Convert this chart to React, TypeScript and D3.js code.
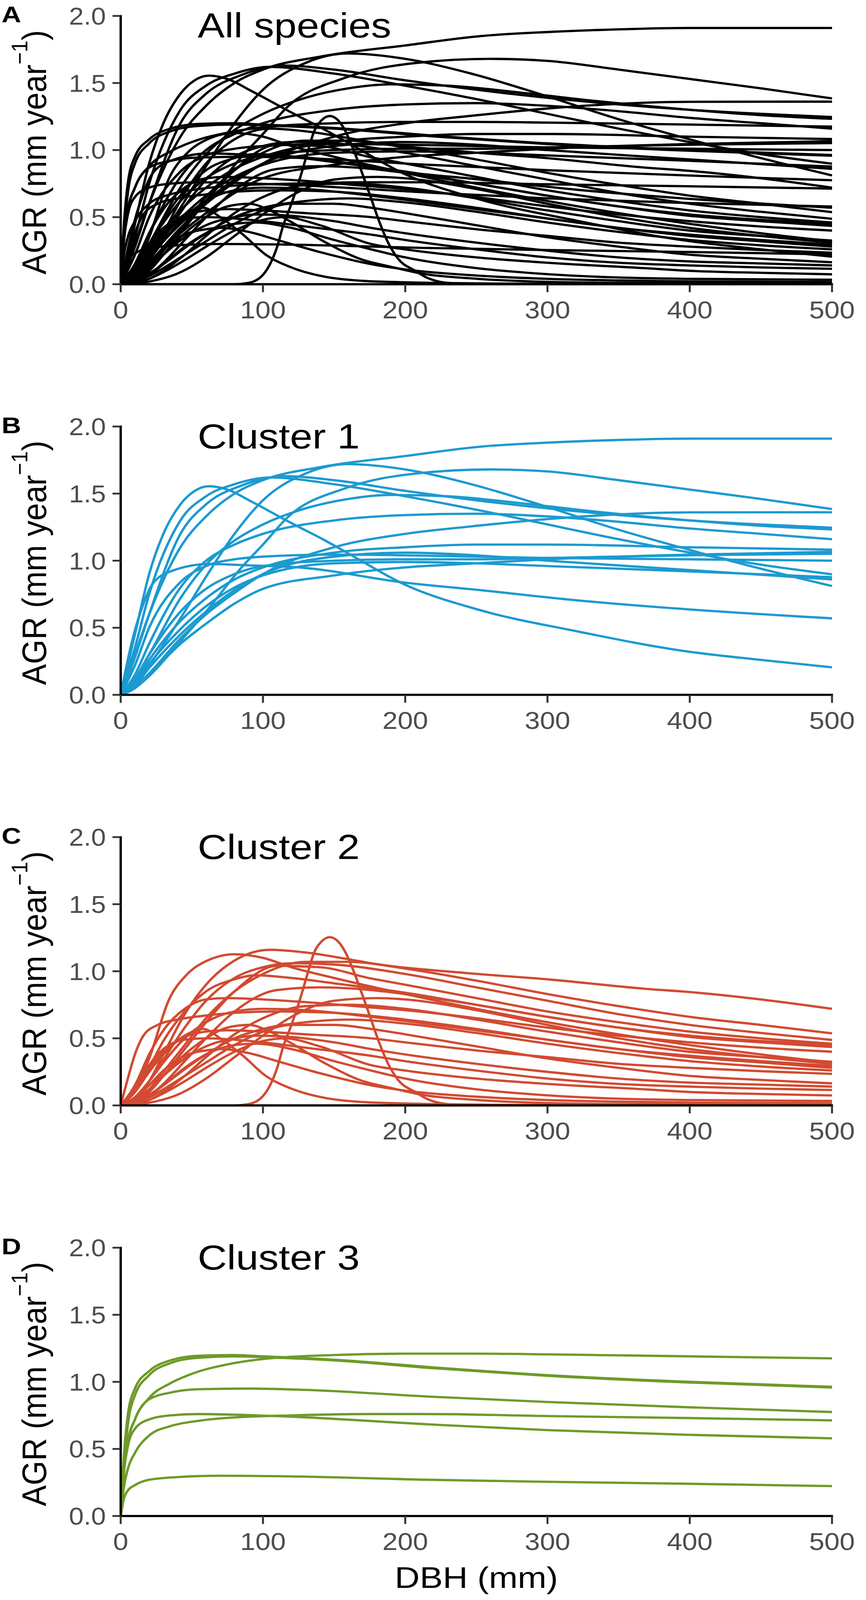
import React from 'react';
import * as d3 from 'd3';

type Pt = [number, number];

// ---------- data ----------
const xTicks = [0, 100, 200, 300, 400, 500];
const xTickLabels = ['0', '100', '200', '300', '400', '500'];
const yTicks = [0, 0.5, 1, 1.5, 2];
const yTickLabels = ['0.0', '0.5', '1.0', '1.5', '2.0'];
const panelLetters = ['A', 'B', 'C', 'D'];
const panelTitles = ['All species', 'Cluster 1', 'Cluster 2', 'Cluster 3'];
const clusterColors = ['#1C9AD0', '#D24A31', '#6E9A29'];

const cluster1: Pt[][] = [
  [[0,0],[10,0.3],[20,0.6],[42,1.1],[60,1.33],[80,1.5],[100,1.6],[142,1.7],[200,1.78],[253,1.85],[300,1.88],[350,1.9],[400,1.91],[500,1.91]],
  [[0,0],[10,0.08],[20,0.22],[42,0.57],[60,0.88],[80,1.2],[100,1.45],[130,1.65],[160,1.72],[200,1.68],[245,1.574],[300,1.4],[350,1.23],[400,1.08],[450,0.94],[500,0.811]],
  [[0,0],[10,0.05],[20,0.14],[42,0.4],[60,0.62],[85,0.95],[100,1.12],[118,1.33],[158,1.54],[208,1.65],[260,1.68],[300,1.665],[350,1.6],[400,1.53],[450,1.46],[500,1.385]],
  [[0,0],[10,0.45],[20,0.9],[30,1.2],[42,1.42],[52,1.52],[62,1.555],[75,1.53],[92,1.44],[120,1.28],[142,1.16],[158,1.066],[200,0.82],[253,0.63],[320,0.475],[395,0.328],[450,0.26],[500,0.205]],
  [[0,0],[8,0.4],[15,0.65],[22,0.82],[35,0.92],[62,0.975],[90,0.965],[125,0.95],[200,0.836],[253,0.78],[320,0.705],[395,0.64],[500,0.57]],
  [[0,0],[10,0.35],[20,0.75],[42,1.3],[60,1.48],[80,1.57],[105,1.62],[150,1.57],[200,1.48],[250,1.38],[300,1.27],[350,1.16],[400,1.06],[450,0.97],[500,0.898]],
  [[0,0],[10,0.28],[20,0.6],[42,1.2],[60,1.42],[85,1.56],[115,1.63],[150,1.6],[200,1.52],[250,1.45],[300,1.39],[350,1.34],[400,1.3],[450,1.27],[500,1.246]],
  [[0,0],[10,0.12],[20,0.3],[42,0.72],[60,0.97],[80,1.15],[100,1.27],[130,1.39],[160,1.46],[190,1.49],[230,1.48],[280,1.43],[330,1.37],[400,1.3],[450,1.26],[500,1.233]],
  [[0,0],[10,0.06],[20,0.16],[42,0.42],[60,0.6],[80,0.76],[100,0.9],[150,1.1],[200,1.2],[245,1.254],[300,1.31],[350,1.345],[400,1.36],[500,1.361]],
  [[0,0],[10,0.15],[20,0.38],[42,0.8],[60,1.0],[80,1.12],[100,1.2],[150,1.3],[200,1.34],[250,1.35],[300,1.33],[350,1.29],[400,1.24],[450,1.2],[500,1.16]],
  [[0,0],[10,0.1],[20,0.26],[42,0.55],[60,0.72],[80,0.86],[100,0.95],[150,1.06],[200,1.1],[250,1.12],[300,1.12],[400,1.1],[500,1.082]],
  [[0,0],[10,0.05],[20,0.15],[42,0.38],[60,0.53],[80,0.68],[100,0.79],[150,0.89],[200,0.95],[250,0.98],[300,1.01],[400,1.045],[500,1.066]],
  [[0,0],[10,0.12],[20,0.3],[42,0.62],[60,0.79],[80,0.9],[100,0.96],[150,1.0],[200,1.01],[250,1.01],[300,1.02],[400,1.04],[500,1.052]],
  [[0,0],[10,0.22],[20,0.5],[42,0.84],[60,0.96],[80,1.01],[100,1.03],[150,1.045],[200,1.04],[250,1.03],[300,1.02],[400,1.01],[500,1.0]],
  [[0,0],[10,0.09],[20,0.23],[42,0.49],[60,0.66],[80,0.8],[100,0.89],[150,0.98],[200,0.99],[250,0.98],[300,0.96],[400,0.92],[500,0.877]],
  [[0,0],[10,0.07],[20,0.2],[42,0.45],[60,0.62],[80,0.78],[100,0.9],[150,1.03],[200,1.06],[250,1.04],[300,1.0],[400,0.93],[500,0.86]],
];

const cluster2: Pt[][] = [
  [[0,0],[10,0.05],[20,0.18],[30,0.38],[45,0.68],[60,0.9],[80,1.08],[105,1.16],[130,1.14],[160,1.09],[176,1.06],[245,0.985],[300,0.94],[368,0.87],[400,0.845],[450,0.79],[500,0.72]],
  [[0,0],[10,0.12],[20,0.35],[34,0.79],[46,0.97],[61,1.08],[80,1.127],[100,1.1],[120,1.03],[150,0.95],[200,0.83],[250,0.72],[300,0.62],[350,0.53],[400,0.45],[450,0.38],[500,0.32]],
  [[0,0],[10,0.04],[20,0.12],[30,0.25],[45,0.45],[60,0.65],[80,0.85],[100,0.98],[130,1.07],[160,1.07],[200,1.02],[250,0.93],[300,0.83],[350,0.74],[400,0.66],[450,0.6],[500,0.537]],
  [[0,0],[10,0.06],[20,0.18],[30,0.34],[45,0.58],[60,0.78],[80,0.95],[100,1.03],[120,1.06],[150,1.05],[200,0.98],[250,0.88],[300,0.78],[350,0.68],[400,0.6],[450,0.54],[500,0.488]],
  [[0,0],[10,0.03],[20,0.1],[30,0.22],[45,0.42],[60,0.62],[80,0.85],[110,1.04],[140,1.03],[176,0.946],[200,0.9],[250,0.8],[300,0.7],[350,0.62],[400,0.55],[450,0.5],[500,0.46]],
  [[0,0],[10,0.1],[20,0.28],[30,0.48],[45,0.7],[60,0.85],[80,0.94],[95,0.97],[120,0.95],[150,0.91],[200,0.84],[250,0.75],[300,0.66],[350,0.58],[400,0.52],[450,0.48],[500,0.45]],
  [[0,0],[10,0.02],[20,0.07],[30,0.16],[45,0.33],[60,0.5],[80,0.7],[110,0.86],[140,0.88],[176,0.86],[200,0.83],[250,0.75],[300,0.66],[350,0.58],[400,0.51],[450,0.47],[500,0.435]],
  [[0,0],[10,0.15],[20,0.38],[30,0.56],[45,0.72],[60,0.79],[75,0.8],[100,0.79],[130,0.77],[176,0.73],[200,0.71],[250,0.65],[300,0.58],[350,0.52],[400,0.47],[450,0.43],[500,0.4]],
  [[0,0],[10,0.01],[20,0.04],[30,0.1],[45,0.22],[60,0.36],[80,0.53],[100,0.65],[130,0.74],[160,0.75],[200,0.72],[250,0.64],[300,0.55],[350,0.47],[400,0.4],[450,0.36],[500,0.325]],
  [[0,0],[20,0.02],[40,0.08],[60,0.2],[80,0.36],[100,0.52],[120,0.66],[150,0.78],[180,0.8],[200,0.79],[250,0.71],[300,0.6],[350,0.5],[400,0.42],[450,0.36],[500,0.31]],
  [[0,0],[10,0.06],[20,0.18],[30,0.32],[45,0.5],[60,0.62],[80,0.7],[100,0.72],[130,0.71],[176,0.66],[200,0.63],[250,0.56],[300,0.49],[350,0.42],[400,0.37],[450,0.33],[500,0.295]],
  [[0,0],[5,0.2],[10,0.38],[16,0.52],[26,0.6],[40,0.64],[60,0.67],[80,0.69],[110,0.7],[150,0.69],[200,0.64],[250,0.57],[300,0.49],[350,0.42],[400,0.36],[450,0.32],[500,0.28]],
  [[0,0],[10,0.03],[20,0.08],[30,0.15],[45,0.27],[60,0.38],[80,0.5],[100,0.57],[130,0.62],[160,0.64],[200,0.61],[250,0.54],[300,0.46],[350,0.39],[400,0.33],[450,0.29],[500,0.26]],
  [[0,0],[10,0.1],[20,0.27],[30,0.4],[45,0.51],[60,0.55],[75,0.56],[100,0.55],[130,0.53],[176,0.5],[200,0.47],[250,0.41],[300,0.36],[350,0.31],[400,0.28],[450,0.255],[500,0.235]],
  [[0,0],[10,0.02],[20,0.06],[30,0.12],[45,0.22],[60,0.32],[80,0.45],[100,0.55],[120,0.6],[150,0.6],[176,0.57],[200,0.53],[250,0.44],[300,0.35],[350,0.28],[400,0.22],[450,0.19],[500,0.164]],
  [[0,0],[10,0.04],[20,0.12],[30,0.22],[45,0.35],[60,0.44],[80,0.5],[95,0.52],[120,0.51],[150,0.47],[176,0.42],[200,0.38],[250,0.31],[300,0.25],[350,0.2],[400,0.17],[450,0.155],[500,0.14]],
  [[0,0],[10,0.12],[20,0.3],[30,0.42],[45,0.49],[60,0.5],[80,0.49],[100,0.47],[130,0.43],[176,0.37],[200,0.33],[250,0.26],[300,0.2],[350,0.16],[400,0.14],[450,0.125],[500,0.115]],
  [[0,0],[10,0.01],[20,0.04],[30,0.09],[45,0.18],[60,0.28],[80,0.4],[100,0.48],[115,0.5],[140,0.44],[176,0.3],[200,0.26],[250,0.2],[300,0.16],[368,0.12],[400,0.1],[450,0.085],[500,0.074]],
  [[0,0],[10,0.04],[20,0.12],[30,0.22],[45,0.38],[60,0.5],[75,0.58],[90,0.6],[105,0.55],[120,0.463],[145,0.306],[169,0.186],[190,0.13],[213,0.077],[250,0.041],[300,0.017],[350,0.01],[400,0.008],[500,0.005]],
  [[0,0],[10,0.1],[20,0.25],[30,0.38],[45,0.52],[58,0.57],[70,0.5],[86,0.37],[102,0.22],[120,0.125],[145,0.053],[170,0.025],[190,0.017],[220,0.01],[260,0.005],[300,0.003],[500,0]],
  [[0,0],[10,0.02],[20,0.07],[30,0.15],[45,0.28],[60,0.38],[80,0.45],[95,0.46],[120,0.42],[150,0.33],[176,0.26],[200,0.2],[250,0.12],[300,0.075],[350,0.05],[400,0.04],[500,0.033]],
  [[0,0],[10,0.05],[20,0.15],[30,0.26],[45,0.37],[60,0.41],[70,0.42],[90,0.39],[110,0.33],[140,0.24],[176,0.15],[200,0.11],[250,0.065],[300,0.04],[350,0.028],[400,0.021],[500,0.016]],
  [[0,0],[80,0],[90,0.01],[100,0.07],[105,0.15],[110,0.28],[114,0.43],[120,0.6],[126,0.79],[131,0.97],[136,1.14],[141,1.22],[147,1.254],[152,1.23],[157,1.16],[163,1.02],[170,0.82],[176,0.64],[182,0.46],[188,0.31],[195,0.19],[207,0.1],[215,0.05],[225,0.017],[240,0.003],[260,0],[500,0]],
];

const cluster3: Pt[][] = [
  [[0,0],[2,0.3],[5,0.55],[10,0.72],[20,0.88],[35,0.99],[50,1.06],[75,1.13],[100,1.17],[150,1.2],[200,1.21],[250,1.21],[300,1.205],[400,1.19],[500,1.175]],
  [[0,0],[2,0.4],[5,0.75],[10,0.95],[20,1.08],[35,1.16],[55,1.195],[80,1.2],[100,1.19],[150,1.165],[222,1.106],[300,1.05],[400,1.0],[500,0.963]],
  [[0,0],[2,0.35],[5,0.68],[10,0.9],[20,1.05],[35,1.14],[55,1.18],[80,1.19],[110,1.18],[150,1.16],[222,1.1],[300,1.045],[400,0.995],[500,0.958]],
  [[0,0],[2,0.3],[5,0.55],[10,0.72],[20,0.87],[35,0.92],[55,0.945],[90,0.95],[130,0.94],[217,0.89],[300,0.85],[400,0.81],[500,0.775]],
  [[0,0],[2,0.3],[5,0.52],[10,0.65],[20,0.72],[35,0.75],[55,0.76],[80,0.755],[120,0.74],[217,0.683],[300,0.64],[400,0.605],[500,0.579]],
  [[0,0],[2,0.2],[5,0.35],[10,0.47],[20,0.6],[35,0.67],[55,0.71],[80,0.735],[120,0.75],[170,0.76],[217,0.76],[300,0.745],[400,0.73],[500,0.713]],
  [[0,0],[2,0.12],[5,0.19],[10,0.23],[20,0.27],[40,0.29],[70,0.3],[120,0.295],[217,0.27],[300,0.255],[400,0.24],[500,0.223]],
];

// ---------- layout (in reference pixels; the svg is fitted to the viewport) ----------
const W = 2217;
const H = 4419;
const PLOT_LEFT = 309;
const PLOT_RIGHT = 2130;
const FIRST_TOP = 44;
const PANEL_STEP = 1134;
const PANEL_H = 741;
const FONT = '"Liberation Sans", Arial, Helvetica, sans-serif';
const SX = 1.08; // horizontal stretch of the larger texts seen in the reference
const TICK_FONT = 68;

const x = d3.scaleLinear().domain([0, 500]).range([PLOT_LEFT, PLOT_RIGHT]);

function Panel({ index, groups }: { index: number; groups: { curves: Pt[][]; color: string }[] }) {
  const top = FIRST_TOP + index * PANEL_STEP;
  const bottom = top + PANEL_H;
  const y = d3.scaleLinear().domain([0, 2]).range([bottom, top]);
  const line = d3
    .line<Pt>()
    .x((d) => x(d[0]))
    .y((d) => y(d[1]))
    .curve(d3.curveMonotoneX);
  const midY = (top + bottom) / 2;
  return (
    <g>
      <defs>
        <clipPath id={`clip${index}`}>
          <rect x={PLOT_LEFT} y={top - 10} width={PLOT_RIGHT - PLOT_LEFT + 10} height={PANEL_H + 10} />
        </clipPath>
      </defs>
      <g clipPath={`url(#clip${index})`}>
        {groups.map((g, gi) =>
          g.curves.map((c, ci) => (
            <path
              key={`${gi}-${ci}`}
              d={line(c) || ''}
              fill="none"
              stroke={g.color}
              strokeWidth={6.3}
              strokeLinejoin="round"
              strokeLinecap="butt"
            />
          ))
        )}
      </g>
      {/* axes */}
      <line x1={PLOT_LEFT} x2={PLOT_LEFT} y1={top - 2.5} y2={bottom + 3} stroke="#000" strokeWidth={6} />
      <line x1={PLOT_LEFT - 3} x2={PLOT_RIGHT + 2.5} y1={bottom} y2={bottom} stroke="#000" strokeWidth={6} />
      {yTicks.map((t, i) => (
        <g key={`yt${i}`}>
          <line x1={PLOT_LEFT - 21} x2={PLOT_LEFT} y1={y(t)} y2={y(t)} stroke="#333" strokeWidth={5} />
          <text
            x={PLOT_LEFT - 38}
            y={y(t) + 24}
            textAnchor="end"
            fontFamily={FONT}
            fontSize={TICK_FONT}
            fill="#4D4D4D"
          >
            {yTickLabels[i]}
          </text>
        </g>
      ))}
      {xTicks.map((t, i) => (
        <g key={`xt${i}`}>
          <line x1={x(t)} x2={x(t)} y1={bottom} y2={bottom + 22} stroke="#333" strokeWidth={5} />
          <text
            transform={`translate(${x(t)},${bottom + 94}) scale(1.03,1)`}
            textAnchor="middle"
            fontFamily={FONT}
            fontSize={TICK_FONT}
            fill="#4D4D4D"
          >
            {xTickLabels[i]}
          </text>
        </g>
      ))}
      {/* y axis title */}
      <text
        transform={`translate(118,${midY + 6}) rotate(-90)`}
        textAnchor="middle"
        fontFamily={FONT}
        fontSize={87}
        fill="#000"
      >
        AGR (mm year
        <tspan fontSize={58} dy={-48}>−1</tspan>
        <tspan dy={48}>)</tspan>
      </text>
      {/* panel letter */}
      <text
        transform={`translate(4,${top + 18}) scale(1.12,1)`}
        fontFamily={FONT}
        fontWeight="bold"
        fontSize={62}
        fill="#000"
      >
        {panelLetters[index]}
      </text>
      {/* panel title */}
      <text
        transform={`translate(506,${top + 60}) scale(${SX},1)`}
        fontFamily={FONT}
        fontSize={96}
        fill="#000"
      >
        {panelTitles[index]}
      </text>
    </g>
  );
}

export default function App() {
  const all = [
    { curves: cluster1, color: '#000' },
    { curves: cluster2, color: '#000' },
    { curves: cluster3, color: '#000' },
  ];
  return (
    <svg
      viewBox={`0 0 ${W} ${H}`}
      preserveAspectRatio="none"
      style={{ position: 'fixed', left: 0, top: 0, width: '100vw', height: '100vh', background: '#fff', display: 'block' }}
    >
      <rect x={0} y={0} width={W} height={H} fill="#fff" />
      <Panel index={0} groups={all} />
      <Panel index={1} groups={[{ curves: cluster1, color: clusterColors[0] }]} />
      <Panel index={2} groups={[{ curves: cluster2, color: clusterColors[1] }]} />
      <Panel index={3} groups={[{ curves: cluster3, color: clusterColors[2] }]} />
      <text
        transform={`translate(${(PLOT_LEFT + PLOT_RIGHT) / 2},4386) scale(${SX},1)`}
        textAnchor="middle"
        fontFamily={FONT}
        fontSize={82}
        fill="#000"
      >
        DBH (mm)
      </text>
    </svg>
  );
}
